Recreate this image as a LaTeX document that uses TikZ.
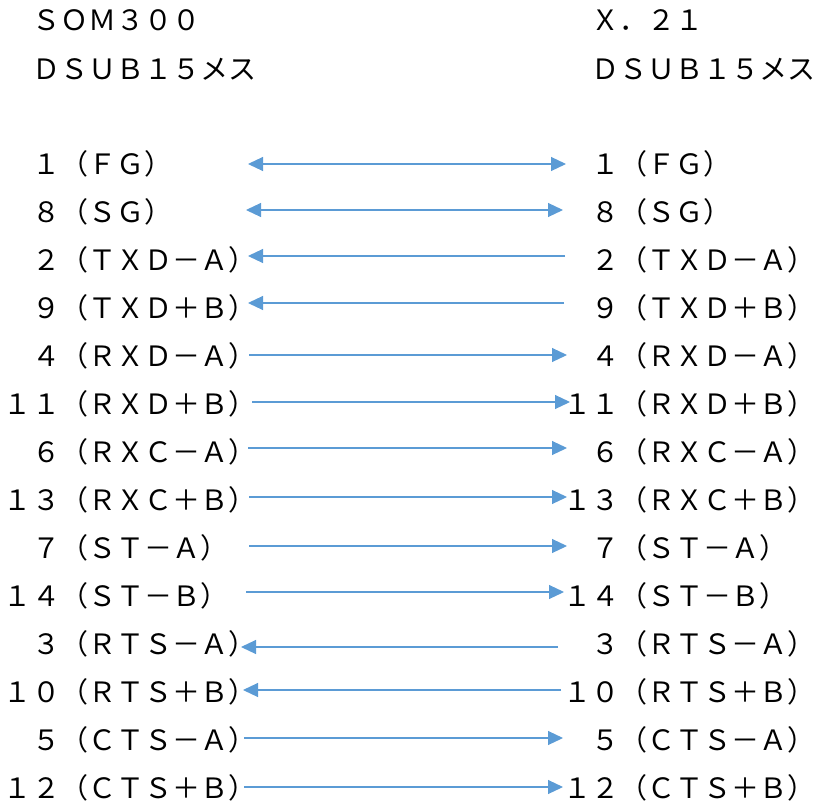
\documentclass[tikz,border=0pt]{standalone}
\usepackage{fontspec}
\usepackage{tikz}
\usetikzlibrary{positioning, arrows.meta}
\newfontfamily\jpfont{Noto Sans CJK JP}
\definecolor{wireblue}{HTML}{5B9BD5}
\tikzset{every node/.style={inner sep=0pt, outer sep=0pt},
	pinlabel/.style={anchor=west, font=\jpfont\fontsize{28pt}{30pt}\selectfont},
	every edge/.style={draw, wireblue, line width=1.1pt, >={Triangle[length=15pt, width=14pt]}}}

\begin{document}
\begin{tikzpicture}[x=1pt, y=-1pt]
    \useasboundingbox (0,0) rectangle (821,805);
    % SOM300 side
    \node[pinlabel] (somname) at (4,20) {　ＳＯＭ３００};
    \node[pinlabel] (somdsub) at (4,69) {　ＤＳＵＢ１５メス};
    \node[pinlabel] (som1) at (4,164) {　１（ＦＧ）};
    \node[pinlabel] (som8) at (4,212) {　８（ＳＧ）};
    \node[pinlabel] (som2) at (4,260) {　２（ＴＸＤ－Ａ）};
    \node[pinlabel] (som9) at (4,308) {　９（ＴＸＤ＋Ｂ）};
    \node[pinlabel] (som4) at (4,356) {　４（ＲＸＤ－Ａ）};
    \node[pinlabel] (som11) at (4,404) {１１（ＲＸＤ＋Ｂ）};
    \node[pinlabel] (som6) at (4,452) {　６（ＲＸＣ－Ａ）};
    \node[pinlabel] (som13) at (4,500) {１３（ＲＸＣ＋Ｂ）};
    \node[pinlabel] (som7) at (4,548) {　７（ＳＴ－Ａ）};
    \node[pinlabel] (som14) at (4,596) {１４（ＳＴ－Ｂ）};
    \node[pinlabel] (som3) at (4,644) {　３（ＲＴＳ－Ａ）};
    \node[pinlabel] (som10) at (4,692) {１０（ＲＴＳ＋Ｂ）};
    \node[pinlabel] (som5) at (4,740) {　５（ＣＴＳ－Ａ）};
    \node[pinlabel] (som12) at (4,788) {１２（ＣＴＳ＋Ｂ）};
    % X.21 side
    \node[pinlabel] (xname) at (563,20) {　Ｘ．２１};
    \node[pinlabel] (xdsub) at (563,69) {　ＤＳＵＢ１５メス};
    \node[pinlabel] (x1) at (563,164) {　１（ＦＧ）};
    \node[pinlabel] (x8) at (563,212) {　８（ＳＧ）};
    \node[pinlabel] (x2) at (563,260) {　２（ＴＸＤ－Ａ）};
    \node[pinlabel] (x9) at (563,308) {　９（ＴＸＤ＋Ｂ）};
    \node[pinlabel] (x4) at (563,356) {　４（ＲＸＤ－Ａ）};
    \node[pinlabel] (x11) at (563,404) {１１（ＲＸＤ＋Ｂ）};
    \node[pinlabel] (x6) at (563,452) {　６（ＲＸＣ－Ａ）};
    \node[pinlabel] (x13) at (563,500) {１３（ＲＸＣ＋Ｂ）};
    \node[pinlabel] (x7) at (563,548) {　７（ＳＴ－Ａ）};
    \node[pinlabel] (x14) at (563,596) {１４（ＳＴ－Ｂ）};
    \node[pinlabel] (x3) at (563,644) {　３（ＲＴＳ－Ａ）};
    \node[pinlabel] (x10) at (563,692) {１０（ＲＴＳ＋Ｂ）};
    \node[pinlabel] (x5) at (563,740) {　５（ＣＴＳ－Ａ）};
    \node[pinlabel] (x12) at (563,788) {１２（ＣＴＳ＋Ｂ）};
    % wire ends
    \coordinate (wsom1) at (248,164);  \coordinate (wx1) at (566,164);
    \coordinate (wsom8) at (246,210);  \coordinate (wx8) at (563,210);
    \coordinate (wsom2) at (248,256);  \coordinate (wx2) at (565,256);
    \coordinate (wsom9) at (248,303);  \coordinate (wx9) at (564,303);
    \coordinate (wsom4) at (249,355);  \coordinate (wx4) at (567,355);
    \coordinate (wsom11) at (252,402); \coordinate (wx11) at (570,402);
    \coordinate (wsom6) at (248,448);  \coordinate (wx6) at (567,448);
    \coordinate (wsom13) at (249,497); \coordinate (wx13) at (567,497);
    \coordinate (wsom7) at (249,546);  \coordinate (wx7) at (567,546);
    \coordinate (wsom14) at (246,592); \coordinate (wx14) at (564,592);
    \coordinate (wsom3) at (241,647);  \coordinate (wx3) at (558,647);
    \coordinate (wsom10) at (243,690); \coordinate (wx10) at (561,690);
    \coordinate (wsom5) at (244,738);  \coordinate (wx5) at (563,738);
    \coordinate (wsom12) at (244,787); \coordinate (wx12) at (563,787);
    % wires
    \draw (wsom1) edge[<->] (wx1);
    \draw (wsom8) edge[<->] (wx8);
    \draw (wx2) edge[->] (wsom2);
    \draw (wx9) edge[->] (wsom9);
    \draw (wsom4) edge[->] (wx4);
    \draw (wsom11) edge[->] (wx11);
    \draw (wsom6) edge[->] (wx6);
    \draw (wsom13) edge[->] (wx13);
    \draw (wsom7) edge[->] (wx7);
    \draw (wsom14) edge[->] (wx14);
    \draw (wx3) edge[->] (wsom3);
    \draw (wx10) edge[->] (wsom10);
    \draw (wsom5) edge[->] (wx5);
    \draw (wsom12) edge[->] (wx12);
\end{tikzpicture}
\end{document}
